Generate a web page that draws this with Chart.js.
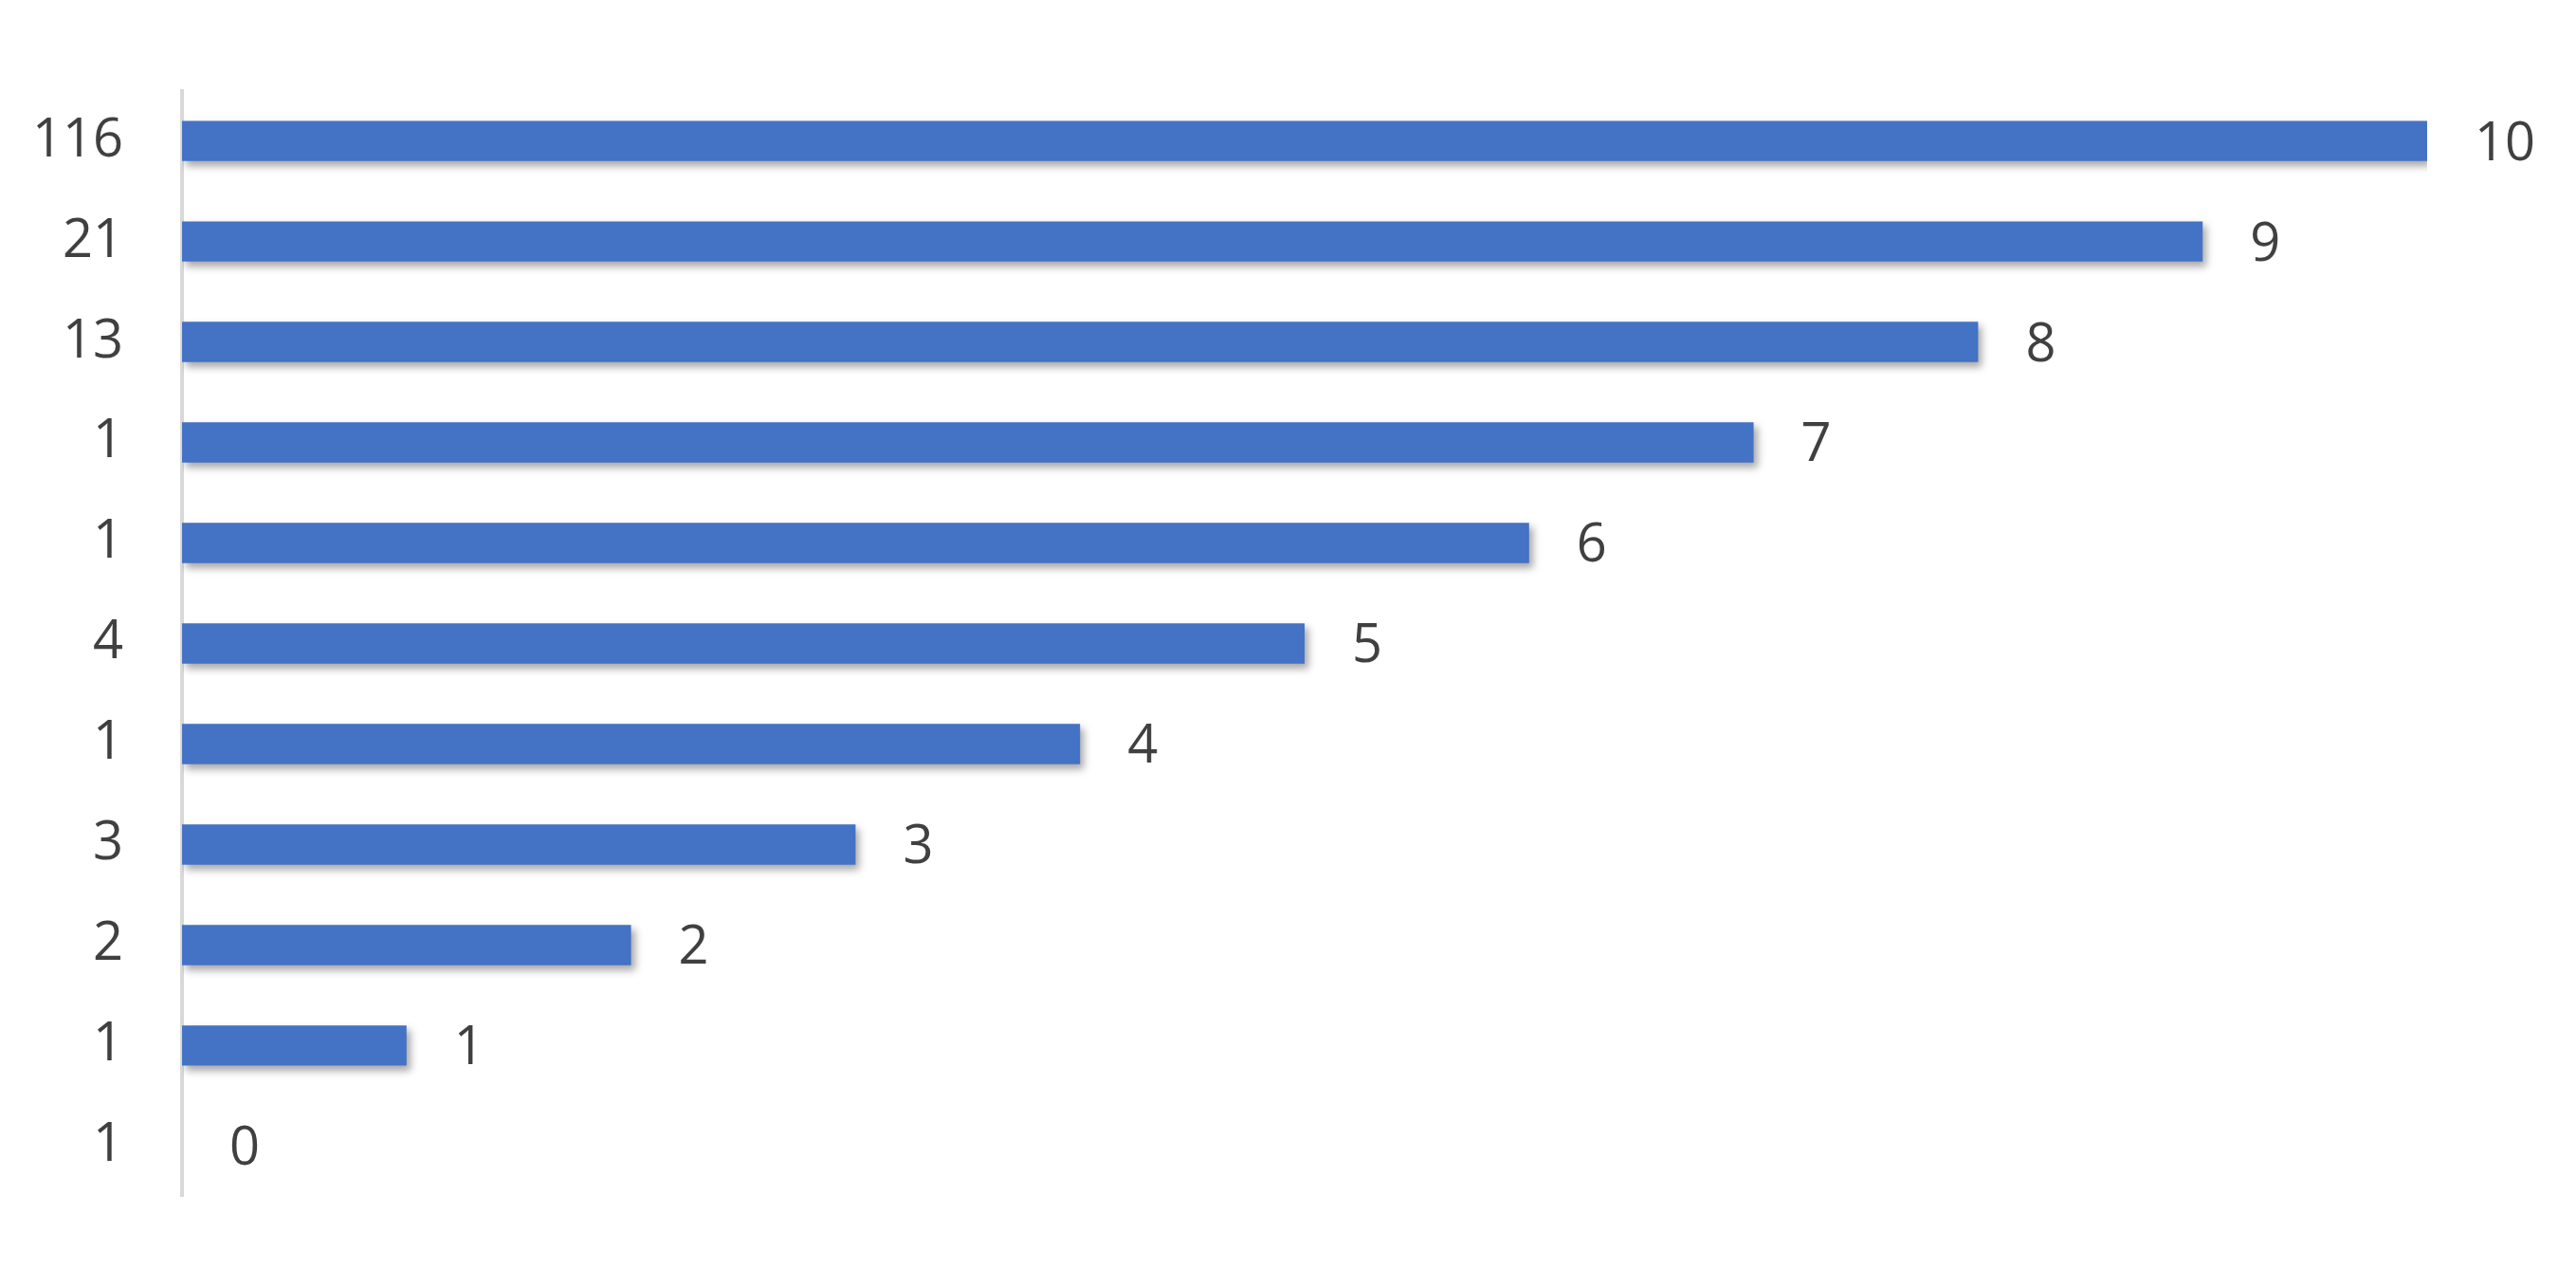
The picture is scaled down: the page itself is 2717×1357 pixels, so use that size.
<!DOCTYPE html>
<html>
<head>
<meta charset="utf-8">
<script src="https://cdn.jsdelivr.net/npm/chart.js@4.4.1/dist/chart.umd.min.js"></script>
<style>
  html, body { margin: 0; padding: 0; background: #fff; }
  #wrap { width: 2717px; height: 1357px; }
</style>
</head>
<body>
<div id="wrap"><canvas id="barChart"></canvas></div>
<script>
// categories (top to bottom) and values
const categories = ["116", "21", "13", "1", "1", "4", "1", "3", "2", "1", "1"];
const values = [10, 9, 8, 7, 6, 5, 4, 3, 2, 1, 0];

const FONT = "'Open Sans', 'Liberation Sans', sans-serif";

// shadow under the bars + value labels at bar ends
const barExtras = {
  id: "barExtras",
  beforeDatasetDraw(chart) {
    const c = chart.ctx;
    c.save();
    c.shadowColor = "rgba(0,0,0,0.35)";
    c.shadowBlur = 8;
    c.shadowOffsetX = 4;
    c.shadowOffsetY = 5;
  },
  afterDatasetDraw(chart) {
    chart.ctx.restore();
  },
  afterDatasetsDraw(chart) {
    const c = chart.ctx;
    const meta = chart.getDatasetMeta(0);
    c.save();
    c.font = "56px " + FONT;
    c.fillStyle = "#404040";
    c.textBaseline = "middle";
    c.textAlign = "left";
    meta.data.forEach((bar, i) => {
      c.fillText(String(values[i]), bar.x + 50, bar.y + 4);
    });
    c.restore();
  }
};

const ctx = document.getElementById("barChart").getContext("2d");
new Chart(ctx, {
  type: "bar",
  data: {
    labels: categories,
    datasets: [{
      data: values,
      backgroundColor: (context) => {
        const el = context.element;
        if (!el || !Number.isFinite(el.y)) return "#4472c4";
        const g = context.chart.ctx.createLinearGradient(0, el.y - 24, 0, el.y + 24);
        g.addColorStop(0, "#5b8ae0");
        g.addColorStop(0.5, "#3f6fcf");
        g.addColorStop(1, "#2f5cb8");
        return g;
      },
      borderWidth: 0,
      barPercentage: 0.8,
      categoryPercentage: 0.5
    }]
  },
  options: {
    indexAxis: "y",
    responsive: true,
    maintainAspectRatio: false,
    animation: false,
    layout: { padding: { top: 20, bottom: 23, right: 157, left: 0 } },
    plugins: { legend: { display: false }, tooltip: { enabled: false } },
    scales: {
      x: { display: false, min: 0, max: 10 },
      y: {
        grid: { display: false, drawTicks: false },
        border: { display: true, color: "#d9d9d9", width: 4 },
        ticks: { color: "#404040", font: { size: 56, family: FONT }, padding: 62 },
        afterFit(scale) { scale.width = 192; }
      }
    }
  },
  plugins: [barExtras]
});
</script>
</body>
</html>
